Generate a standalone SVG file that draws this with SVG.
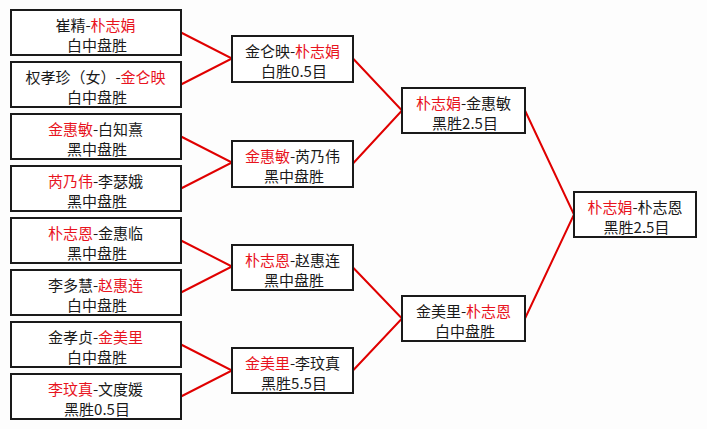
<svg xmlns="http://www.w3.org/2000/svg" width="707" height="429" viewBox="0 0 707 429">
<style>
.box{fill:#fff;stroke:#1a1a1a;stroke-width:2}
text{font-family:"Noto Sans CJK SC","Noto Sans",sans-serif;font-size:15px;fill:#1a1a1a;text-anchor:middle}
.r{fill:#e8141e}
.ln{stroke:#e00000;stroke-width:2;fill:none}
</style>
<rect width="707" height="429" fill="#fdfdfd"/>
<g id="connectors">
<polyline class="ln" points="181,32.5 232,58.5 181,84.5"/>
<polyline class="ln" points="181,136.5 232,162.5 181,188.5"/>
<polyline class="ln" points="181,240.5 232,266.5 181,292.5"/>
<polyline class="ln" points="181,344.5 232,370.5 181,396.5"/>
<polyline class="ln" points="353,58.5 402,110.5 353,163.5"/>
<polyline class="ln" points="353,267.5 402,318.5 353,370.5"/>
<polyline class="ln" points="525,110.5 574,214.5 525,318.5"/>
</g>
<g id="n1"><rect class="box" x="11" y="10" width="170" height="45"/><text x="95.5" y="31">崔精-<tspan class="r">朴志娟</tspan></text><text x="97" y="51">白中盘胜</text></g>
<g id="n2"><rect class="box" x="11" y="62" width="170" height="45"/><text x="95.5" y="83">权孝珍（女）-<tspan class="r">金仑映</tspan></text><text x="97" y="103">白中盘胜</text></g>
<g id="n3"><rect class="box" x="11" y="114" width="170" height="45"/><text x="95.5" y="135"><tspan class="r">金惠敏</tspan>-白知熹</text><text x="97" y="155">黑中盘胜</text></g>
<g id="n4"><rect class="box" x="11" y="166" width="170" height="45"/><text x="95.5" y="187"><tspan class="r">芮乃伟</tspan>-李瑟娥</text><text x="97" y="207">黑中盘胜</text></g>
<g id="n5"><rect class="box" x="11" y="218" width="170" height="45"/><text x="95.5" y="239"><tspan class="r">朴志恩</tspan>-金惠临</text><text x="97" y="259">黑中盘胜</text></g>
<g id="n6"><rect class="box" x="11" y="270" width="170" height="45"/><text x="95.5" y="291">李多慧-<tspan class="r">赵惠连</tspan></text><text x="97" y="311">白中盘胜</text></g>
<g id="n7"><rect class="box" x="11" y="322" width="170" height="45"/><text x="95.5" y="343">金孝贞-<tspan class="r">金美里</tspan></text><text x="97" y="363">白中盘胜</text></g>
<g id="n8"><rect class="box" x="11" y="374" width="170" height="45"/><text x="95.5" y="395"><tspan class="r">李玟真</tspan>-文度媛</text><text x="97" y="415">黑胜0.5目</text></g>
<g id="m1"><rect class="box" x="232" y="36" width="121" height="46"/><text x="292.5" y="57">金仑映-<tspan class="r">朴志娟</tspan></text><text x="294" y="77">白胜0.5目</text></g>
<g id="m2"><rect class="box" x="232" y="141" width="121" height="46"/><text x="292.5" y="162"><tspan class="r">金惠敏</tspan>-芮乃伟</text><text x="294" y="182">黑中盘胜</text></g>
<g id="m3"><rect class="box" x="232" y="245" width="121" height="45"/><text x="292.5" y="266"><tspan class="r">朴志恩</tspan>-赵惠连</text><text x="294" y="286">黑中盘胜</text></g>
<g id="m4"><rect class="box" x="232" y="348" width="121" height="45"/><text x="292.5" y="369"><tspan class="r">金美里</tspan>-李玟真</text><text x="294" y="389">黑胜5.5目</text></g>
<g id="s1"><rect class="box" x="402" y="88" width="123" height="45"/><text x="463.5" y="109"><tspan class="r">朴志娟</tspan>-金惠敏</text><text x="465" y="129">黑胜2.5目</text></g>
<g id="s2"><rect class="box" x="402" y="296" width="123" height="45"/><text x="463.5" y="317">金美里-<tspan class="r">朴志恩</tspan></text><text x="465" y="337">白中盘胜</text></g>
<g id="f"><rect class="box" x="574" y="192" width="122" height="45"/><text x="635" y="213"><tspan class="r">朴志娟</tspan>-朴志恩</text><text x="636.5" y="233">黑胜2.5目</text></g>
</svg>
